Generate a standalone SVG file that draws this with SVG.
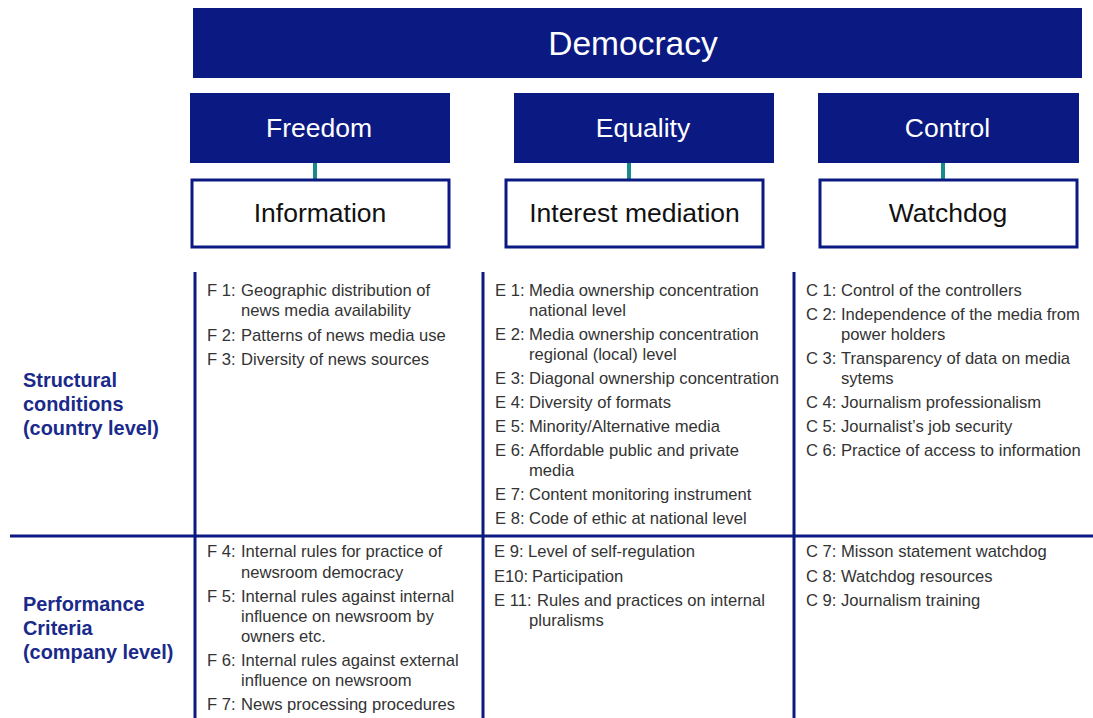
<svg xmlns="http://www.w3.org/2000/svg" width="1093" height="718" viewBox="0 0 1093 718">
<style>
.navy{fill:#0b1a82}
.hw{font-family:"Liberation Sans",Arial,sans-serif;fill:#ffffff;text-anchor:middle}
.hb{font-family:"Liberation Sans",Arial,sans-serif;fill:#111111;text-anchor:middle;font-size:26.5px}
.box{fill:#ffffff;stroke:#0b1a82;stroke-width:3}
.grid{stroke:#0b1a82;stroke-width:3;fill:none}
.conn{stroke:#1a8a8a;stroke-width:4}
.t{font-family:"Liberation Sans",Arial,sans-serif;font-size:16.6px;fill:#333333}
.lab{font-family:"Liberation Sans",Arial,sans-serif;font-size:19.9px;font-weight:bold;fill:#1a2a8a}
</style>
<rect width="1093" height="718" fill="#ffffff"/>

<g id="connectors">
<line class="conn" x1="315" y1="163" x2="315" y2="179"/>
<line class="conn" x1="629" y1="163" x2="629" y2="179"/>
<line class="conn" x1="943" y1="163" x2="943" y2="179"/>
</g>

<g id="democracy">
<rect class="navy" x="193" y="8" width="889" height="70"/>
<text class="hw" x="633" y="55" font-size="33.5">Democracy</text>
</g>
<g id="freedom">
<rect class="navy" x="190" y="93" width="260" height="70"/>
<text class="hw" x="319" y="137" font-size="26.5">Freedom</text>
</g>
<g id="equality">
<rect class="navy" x="514" y="93" width="260" height="70"/>
<text class="hw" x="643" y="137" font-size="26.5">Equality</text>
</g>
<g id="control">
<rect class="navy" x="818" y="93" width="261" height="70"/>
<text class="hw" x="947.5" y="137" font-size="26.5">Control</text>
</g>
<g id="information">
<rect class="box" x="192" y="180" width="257" height="67"/>
<text class="hb" x="320" y="222">Information</text>
</g>
<g id="interest-mediation">
<rect class="box" x="506" y="180" width="257" height="67"/>
<text class="hb" x="634.5" y="222">Interest mediation</text>
</g>
<g id="watchdog">
<rect class="box" x="820" y="180" width="257" height="67"/>
<text class="hb" x="948" y="222">Watchdog</text>
</g>

<g id="grid">
<line class="grid" x1="195" y1="272" x2="195" y2="718"/>
<line class="grid" x1="483" y1="272" x2="483" y2="718"/>
<line class="grid" x1="794" y1="272" x2="794" y2="718"/>
<line class="grid" x1="10" y1="536" x2="1093" y2="536"/>
</g>

<g id="row-labels">
<text class="lab" x="23" y="387">Structural</text>
<text class="lab" x="23" y="411">conditions</text>
<text class="lab" x="23" y="435">(country level)</text>
<text class="lab" x="23" y="611">Performance</text>
<text class="lab" x="23" y="635">Criteria</text>
<text class="lab" x="23" y="659">(company level)</text>
</g>

<g id="freedom-structural" class="t">
<text x="207" y="296">F 1:</text><text x="241" y="296">Geographic distribution of</text>
<text x="241" y="316">news media availability</text>
<text x="207" y="341">F 2:</text><text x="241" y="341">Patterns of news media use</text>
<text x="207" y="365">F 3:</text><text x="241" y="365">Diversity of news sources</text>
</g>

<g id="equality-structural" class="t">
<text x="495" y="296">E 1:</text><text x="529" y="296">Media ownership concentration</text>
<text x="529" y="316">national level</text>
<text x="495" y="340">E 2:</text><text x="529" y="340">Media ownership concentration</text>
<text x="529" y="360">regional (local) level</text>
<text x="495" y="384">E 3:</text><text x="529" y="384">Diagonal ownership concentration</text>
<text x="495" y="408">E 4:</text><text x="529" y="408">Diversity of formats</text>
<text x="495" y="432">E 5:</text><text x="529" y="432">Minority/Alternative media</text>
<text x="495" y="456">E 6:</text><text x="529" y="456">Affordable public and private</text>
<text x="529" y="476">media</text>
<text x="495" y="500">E 7:</text><text x="529" y="500">Content monitoring instrument</text>
<text x="495" y="524">E 8:</text><text x="529" y="524">Code of ethic at national level</text>
</g>

<g id="control-structural" class="t">
<text x="806" y="296">C 1:</text><text x="841" y="296">Control of the controllers</text>
<text x="806" y="320">C 2:</text><text x="841" y="320">Independence of the media from</text>
<text x="841" y="340">power holders</text>
<text x="806" y="364">C 3:</text><text x="841" y="364">Transparency of data on media</text>
<text x="841" y="384">sytems</text>
<text x="806" y="408">C 4:</text><text x="841" y="408">Journalism professionalism</text>
<text x="806" y="432">C 5:</text><text x="841" y="432">Journalist’s job security</text>
<text x="806" y="456">C 6:</text><text x="841" y="456">Practice of access to information</text>
</g>

<g id="freedom-performance" class="t">
<text x="207" y="557">F 4:</text><text x="241" y="557">Internal rules for practice of</text>
<text x="241" y="578">newsroom democracy</text>
<text x="207" y="602">F 5:</text><text x="241" y="602">Internal rules against internal</text>
<text x="241" y="622">influence on newsroom by</text>
<text x="241" y="642">owners etc.</text>
<text x="207" y="666">F 6:</text><text x="241" y="666">Internal rules against external</text>
<text x="241" y="686">influence on newsroom</text>
<text x="207" y="710">F 7:</text><text x="241" y="710">News processing procedures</text>
</g>

<g id="equality-performance" class="t">
<text x="494" y="557">E 9:</text><text x="528" y="557">Level of self-regulation</text>
<text x="494" y="582">E10:</text><text x="532" y="582">Participation</text>
<text x="494" y="606">E 11:</text><text x="537" y="606">Rules and practices on internal</text>
<text x="529" y="626">pluralisms</text>
</g>

<g id="control-performance" class="t">
<text x="806" y="557">C 7:</text><text x="841" y="557">Misson statement watchdog</text>
<text x="806" y="582">C 8:</text><text x="841" y="582">Watchdog resources</text>
<text x="806" y="606">C 9:</text><text x="841" y="606">Journalism training</text>
</g>
</svg>
